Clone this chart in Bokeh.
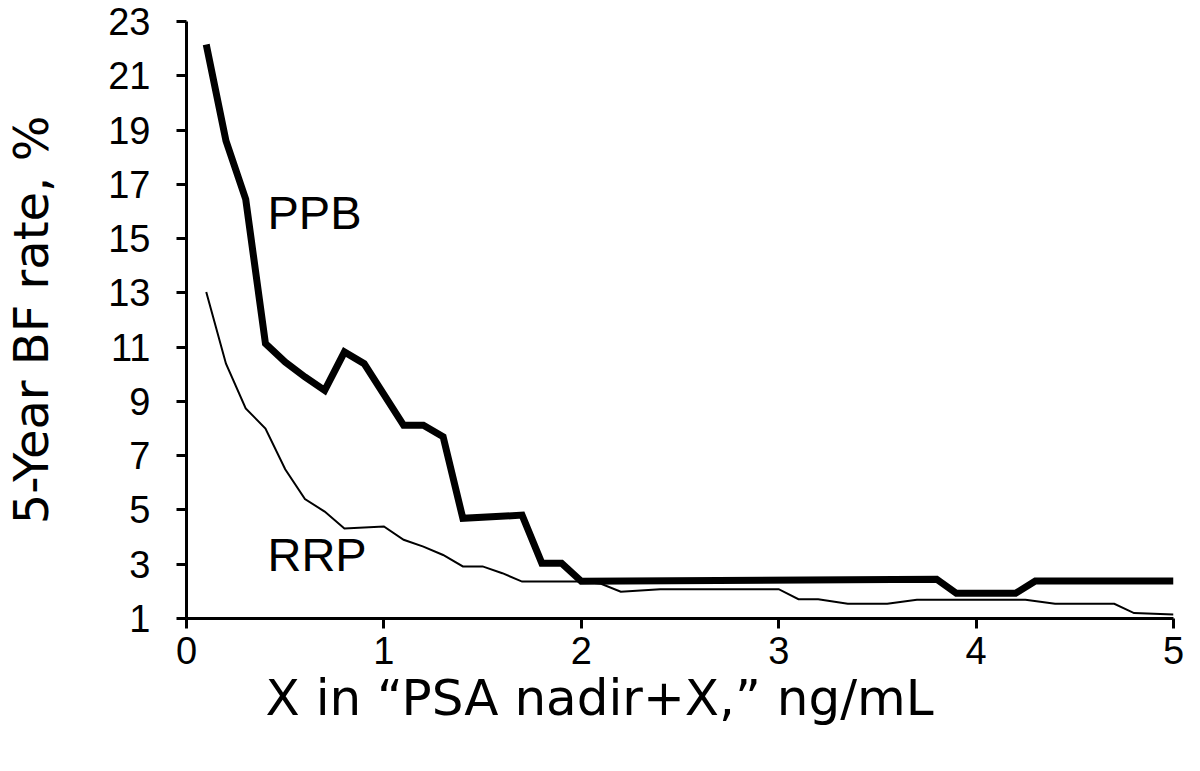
from bokeh.plotting import figure
from bokeh.models import Range1d, FixedTicker, ColumnDataSource, Title
from bokeh.core.properties import value
from bokeh.embed import file_html
from bokeh.resources import INLINE

# PPB series (thick line)
ppb_x = [0.1, 0.2, 0.3, 0.4, 0.5, 0.6, 0.7, 0.8, 0.9, 1.1, 1.2, 1.3, 1.4, 1.7, 1.8, 1.9, 2.0, 3.8, 3.9, 4.2, 4.3, 5.0]
ppb_y = [22.15, 18.6, 16.45, 11.13, 10.45, 9.9, 9.41, 10.82, 10.39, 8.12, 8.12, 7.7, 4.69, 4.81, 3.04, 3.04, 2.37, 2.45, 1.93, 1.93, 2.38, 2.38]

# RRP series (thin line)
rrp_x = [0.1, 0.2, 0.3, 0.4, 0.5, 0.6, 0.7, 0.8, 1.0, 1.1, 1.2, 1.3, 1.4, 1.5, 1.6, 1.7, 2.0, 2.1, 2.2, 2.4, 3.0, 3.1, 3.2, 3.35, 3.55, 3.7, 4.25, 4.4, 4.7, 4.8, 5.0]
rrp_y = [13.03, 10.39, 8.74, 8.0, 6.5, 5.4, 4.94, 4.32, 4.39, 3.9, 3.65, 3.34, 2.92, 2.92, 2.67, 2.36, 2.36, 2.28, 1.99, 2.08, 2.08, 1.71, 1.71, 1.54, 1.54, 1.69, 1.69, 1.54, 1.54, 1.2, 1.15]

x_ticks = [0, 1, 2, 3, 4, 5]
y_ticks = [1, 3, 5, 7, 9, 11, 13, 15, 17, 19, 21, 23]

series_labels = ["PPB", "RRP"]
label_x = [0.41, 0.41]
label_y = [15.95, 3.35]

x_title = "X in \u201cPSA nadir+X,\u201d ng/mL"
y_title = "5-Year BF rate, %"

FONT = "Liberation Sans"
TITLE_FONT = "DejaVu Sans"

p = figure(width=1184, height=755, output_backend="svg", toolbar_location=None,
           x_range=Range1d(0, 5), y_range=Range1d(1, 23),
           min_border_left=183, min_border_right=11, min_border_top=21, min_border_bottom=137)
p.outline_line_color = None
p.grid.grid_line_color = None
p.background_fill_color = "white"
p.border_fill_color = "white"

p.line(ppb_x, ppb_y, line_width=7, line_color="black", line_join="miter")
p.line(rrp_x, rrp_y, line_width=2, line_color="black", line_join="miter")

src = ColumnDataSource(dict(x=label_x, y=label_y, t=series_labels))
p.text(x="x", y="y", text="t", source=src, text_font=value(FONT), text_font_size="47px",
       text_color="black", text_align="left", text_baseline="alphabetic")

for ax in (p.xaxis[0], p.yaxis[0]):
    ax.axis_line_width = 3
    ax.axis_line_color = "black"
    ax.major_tick_line_width = 3
    ax.major_tick_line_color = "black"
    ax.major_tick_in = 0
    ax.major_tick_out = 10
    ax.minor_tick_line_color = None
    ax.major_label_text_font = FONT
    ax.major_label_text_font_size = "38px"
    ax.major_label_text_color = "black"

p.xaxis[0].ticker = FixedTicker(ticks=x_ticks)
p.yaxis[0].ticker = FixedTicker(ticks=y_ticks)
p.xaxis[0].major_label_standoff = 8
p.yaxis[0].major_label_standoff = 26

# y title as the axis label, pushed to the far left
p.yaxis[0].axis_label = y_title
p.yaxis[0].axis_label_text_font = TITLE_FONT
p.yaxis[0].axis_label_text_font_size = "48px"
p.yaxis[0].axis_label_text_font_style = "normal"
p.yaxis[0].axis_label_text_color = "black"
p.yaxis[0].axis_label_standoff = 46

# x title as a side title (the reference title is left of the frame centre)
p.add_layout(Title(text=x_title, align="left", offset=79, standoff=0,
                   text_font=TITLE_FONT, text_font_size="50px", text_font_style="normal",
                   text_color="black"), "below")

open("out.html", "w").write(file_html(p, INLINE))
